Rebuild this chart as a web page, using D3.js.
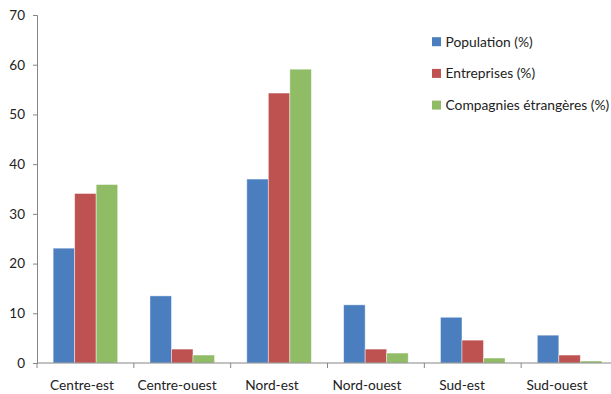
<!DOCTYPE html>
<html>
<head>
<meta charset="utf-8">
<script src="https://cdn.jsdelivr.net/npm/d3@7"></script>
<style>
  body { margin: 0; background: #fff; }
  svg { display: block; font-family: "Lato", "Open Sans", sans-serif; }
</style>
</head>
<body>
<svg id="chart" width="611" height="394"></svg>
<script>
// Regions and their shares (%)
const regions = ["Centre-est", "Centre-ouest", "Nord-est", "Nord-ouest", "Sud-est", "Sud-ouest"];
const seriesNames = ["Population (%)", "Entreprises (%)", "Compagnies étrangères (%)"];
const population = [23.1, 13.5, 37.0, 11.7, 9.2, 5.6];
const entreprises = [34.1, 2.8, 54.3, 2.8, 4.6, 1.6];
const compagnies = [35.9, 1.6, 59.1, 2.0, 1.0, 0.4];
const colors = ["#4A7EBF", "#BE5250", "#8FBC65"];
const yTicks = [0, 10, 20, 30, 40, 50, 60, 70];

const seriesValues = [population, entreprises, compagnies];

const svg = d3.select("#chart");
const axisColor = "#868686";

const x = d3.scaleBand().domain(regions).range([37, 618]).paddingInner(0).paddingOuter(0);
const inner = d3.scaleBand().domain(d3.range(seriesNames.length))
  .range([0, x.bandwidth()]).paddingInner(0).paddingOuter(0.75);
const y = d3.scaleLinear().domain([0, 70]).range([363, 15]);
// category labels sit on an evenly spaced row of their own
const xLabel = d3.scalePoint().domain(regions).range([82, 557]);

// Bars
regions.forEach((r, i) => {
  const g = svg.append("g").attr("transform", `translate(${x(r)},0)`);
  seriesValues.forEach((vals, s) => {
    g.append("rect")
      .attr("x", inner(s))
      .attr("y", y(vals[i]))
      .attr("width", inner.bandwidth())
      .attr("height", y(0) - y(vals[i]))
      .attr("fill", colors[s])
      .attr("stroke", "rgba(255,255,255,0.55)")
      .attr("stroke-width", 0.8);
  });
});

// Y axis
const yAxis = svg.append("g").attr("transform", "translate(37,0)")
  .call(d3.axisLeft(y).tickValues(yTicks).tickSize(4).tickPadding(8));
yAxis.select(".domain").attr("stroke", axisColor);
yAxis.selectAll(".tick line").attr("stroke", axisColor);
yAxis.selectAll(".tick text").attr("font-size", 13.5).attr("fill", "#222")
  .attr("font-family", "Lato, 'Open Sans', sans-serif");

// X axis with boundary ticks
const xAxisG = svg.append("g").attr("transform", `translate(0,${y(0)})`);
xAxisG.append("line").attr("x1", 37).attr("x2", 618).attr("y1", 0).attr("y2", 0)
  .attr("stroke", axisColor);
regions.forEach(r => {
  xAxisG.append("line").attr("x1", x(r)).attr("x2", x(r)).attr("y1", 0).attr("y2", 5)
    .attr("stroke", axisColor);
});
xAxisG.selectAll("text.cat").data(regions).enter().append("text")
  .attr("class", "cat")
  .attr("x", d => xLabel(d))
  .attr("y", 27)
  .attr("text-anchor", "middle")
  .attr("font-size", 13.7)
  .attr("fill", "#222")
  .text(d => d);

// Legend
const legend = svg.append("g").attr("transform", "translate(432,41.7)");
seriesNames.forEach((n, s) => {
  const row = legend.append("g").attr("transform", `translate(0,${s * 31.7})`);
  row.append("rect").attr("x", 0).attr("y", -4.5).attr("width", 9).attr("height", 9)
    .attr("fill", colors[s]);
  row.append("text").attr("x", 13.5).attr("y", 0).attr("dy", "0.35em")
    .attr("font-size", 13.8).attr("fill", "#222").text(n);
});
</script>
</body>
</html>
